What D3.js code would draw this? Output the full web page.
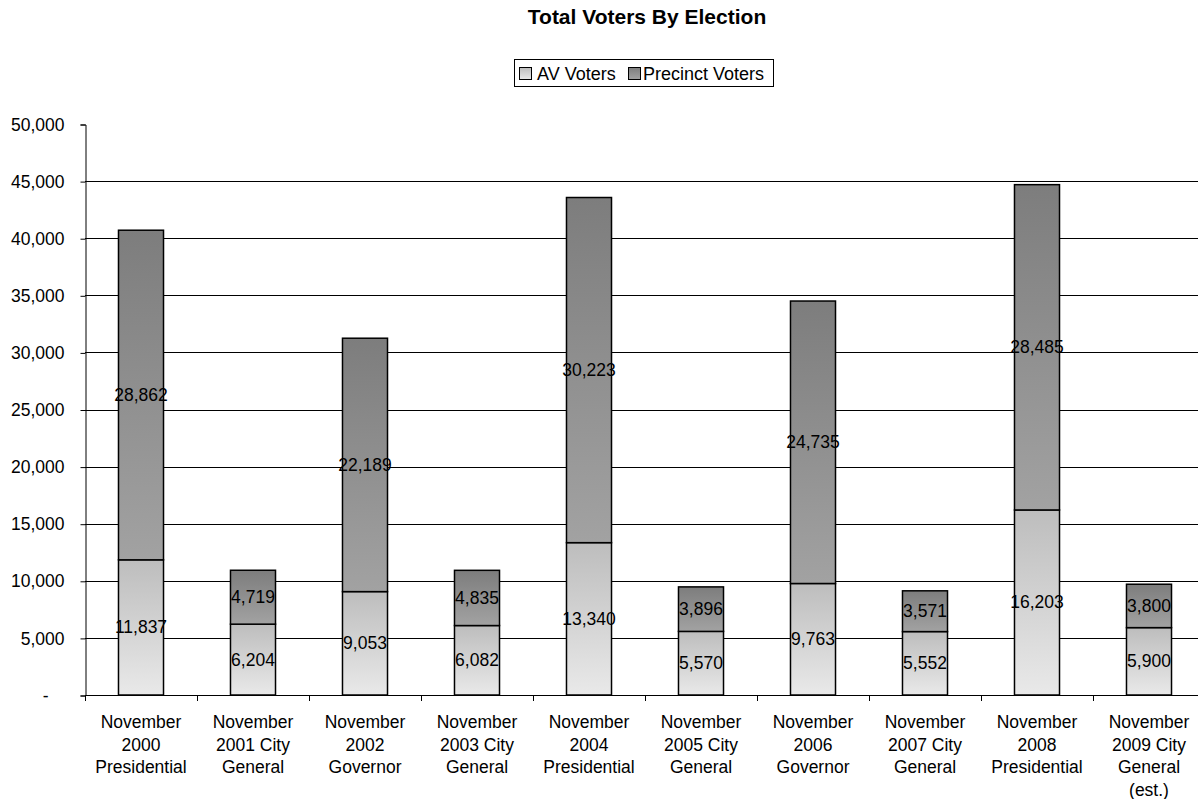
<!DOCTYPE html>
<html>
<head>
<meta charset="utf-8">
<script src="https://cdn.jsdelivr.net/npm/d3@7"></script>
<style>
  html, body { margin: 0; padding: 0; background: #fff; }
  svg { display: block; }
  text { font-family: "Liberation Sans", Arial, sans-serif; fill: #000; }
</style>
</head>
<body>
<svg id="chart" width="1198" height="799"></svg>
<script>
const categories = [
  ["November", "2000", "Presidential"],
  ["November", "2001 City", "General"],
  ["November", "2002", "Governor"],
  ["November", "2003 City", "General"],
  ["November", "2004", "Presidential"],
  ["November", "2005 City", "General"],
  ["November", "2006", "Governor"],
  ["November", "2007 City", "General"],
  ["November", "2008", "Presidential"],
  ["November", "2009 City", "General", "(est.)"]
];
const avVoters = [11837, 6204, 9053, 6082, 13340, 5570, 9763, 5552, 16203, 5900];
const precinctVoters = [28862, 4719, 22189, 4835, 30223, 3896, 24735, 3571, 28485, 3800];
const seriesNames = ["AV Voters", "Precinct Voters"];
const yTicks = [0, 5000, 10000, 15000, 20000, 25000, 30000, 35000, 40000, 45000, 50000];
const titleText = "Total Voters By Election";

const svg = d3.select("#chart");
const W = 1198, H = 799;
const m = { left: 85, right: 1205, top: 124, bottom: 695 };

// gradients
const defs = svg.append("defs");
function grad(id, top, bottom) {
  const g = defs.append("linearGradient").attr("id", id)
    .attr("x1", 0).attr("y1", 0).attr("x2", 0).attr("y2", 1);
  g.append("stop").attr("offset", "0%").attr("stop-color", top);
  g.append("stop").attr("offset", "100%").attr("stop-color", bottom);
}
grad("gAV", "#bdbdbd", "#e9e9e9");
grad("gPR", "#7d7d7d", "#a2a2a2");
const fills = ["url(#gAV)", "url(#gPR)"];

const idx = d3.range(categories.length);
const x = d3.scaleBand().domain(idx).range([m.left, m.right])
  .paddingInner(0.598).paddingOuter(0.299);
const y = d3.scaleLinear().domain([0, 50000]).range([m.bottom, m.top]);
const step = x.step();

// title
svg.append("text").attr("x", 647).attr("y", 24)
  .attr("text-anchor", "middle").style("font-size", "21px").style("font-weight", "bold")
  .text(titleText);

// gridlines
svg.append("g").selectAll("line").data(yTicks.filter(t => t > 0 && t < 50000)).join("line")
  .attr("x1", m.left).attr("x2", W)
  .attr("y1", d => Math.round(y(d)) + 0.5).attr("y2", d => Math.round(y(d)) + 0.5)
  .attr("stroke", "#000").attr("stroke-width", 1);

// y axis
const yAxis = d3.axisLeft(y).tickValues(yTicks).tickSize(5).tickPadding(16)
  .tickFormat(d => d === 0 ? "-" : d3.format(",")(d));
const yg = svg.append("g").attr("transform", `translate(${m.left + 0.5},0.5)`).call(yAxis);
yg.select(".domain").attr("stroke", "#000");
yg.selectAll(".tick line").attr("stroke", "#000");
yg.selectAll(".tick text").style("font-size", "17.5px").attr("fill", "#000")
  .style("font-family", '"Liberation Sans", Arial, sans-serif');
yg.selectAll(".tick text").filter(d => d === 0).attr("x", -37);

// stacked bars
const stacked = idx.map(i => {
  const a = avVoters[i], p = precinctVoters[i];
  return [
    { i, s: 0, y0: 0, y1: a, v: a },
    { i, s: 1, y0: a, y1: a + p, v: p }
  ];
}).flat();

const bars = svg.append("g");
bars.selectAll("rect").data(stacked).join("rect")
  .attr("x", d => x(d.i))
  .attr("width", x.bandwidth())
  .attr("y", d => y(d.y1))
  .attr("height", d => y(d.y0) - y(d.y1))
  .attr("fill", d => fills[d.s])
  .attr("stroke", "#000").attr("stroke-width", 1.5);

bars.selectAll("text").data(stacked).join("text")
  .attr("x", d => x(d.i) + x.bandwidth() / 2)
  .attr("y", d => (y(d.y0) + y(d.y1)) / 2)
  .attr("text-anchor", "middle").attr("dominant-baseline", "central")
  .style("font-size", "17.5px")
  .text(d => d3.format(",")(d.v));

// x axis
const xa = svg.append("g");
xa.append("line").attr("x1", m.left).attr("x2", W)
  .attr("y1", m.bottom + 0.5).attr("y2", m.bottom + 0.5).attr("stroke", "#000");
xa.selectAll("line.tk").data(d3.range(categories.length + 1)).join("line").attr("class", "tk")
  .attr("x1", d => Math.round(m.left + d * step) + 0.5).attr("x2", d => Math.round(m.left + d * step) + 0.5)
  .attr("y1", m.bottom).attr("y2", m.bottom + 6).attr("stroke", "#000");
const lab = xa.selectAll("text").data(idx).join("text")
  .attr("text-anchor", "middle").style("font-size", "17.5px")
  .attr("transform", d => `translate(${x(d) + x.bandwidth() / 2},${m.bottom + 33})`);
lab.selectAll("tspan").data(d => categories[d]).join("tspan")
  .attr("x", 0).attr("dy", (d, k) => k === 0 ? 0 : 22.5).text(d => d);

// legend
const lg = svg.append("g");
lg.append("rect").attr("x", 514.5).attr("y", 59.5).attr("width", 259).attr("height", 27)
  .attr("fill", "#fff").attr("stroke", "#000");
const items = [{ x: 519, tx: 537 }, { x: 628, tx: 643 }];
items.forEach((it, k) => {
  lg.append("rect").attr("x", it.x + 0.5).attr("y", 67.5).attr("width", 12).attr("height", 12)
    .attr("fill", fills[k]).attr("stroke", "#000");
  lg.append("text").attr("x", it.tx).attr("y", 80).style("font-size", "18px").text(seriesNames[k]);
});
</script>
</body>
</html>
